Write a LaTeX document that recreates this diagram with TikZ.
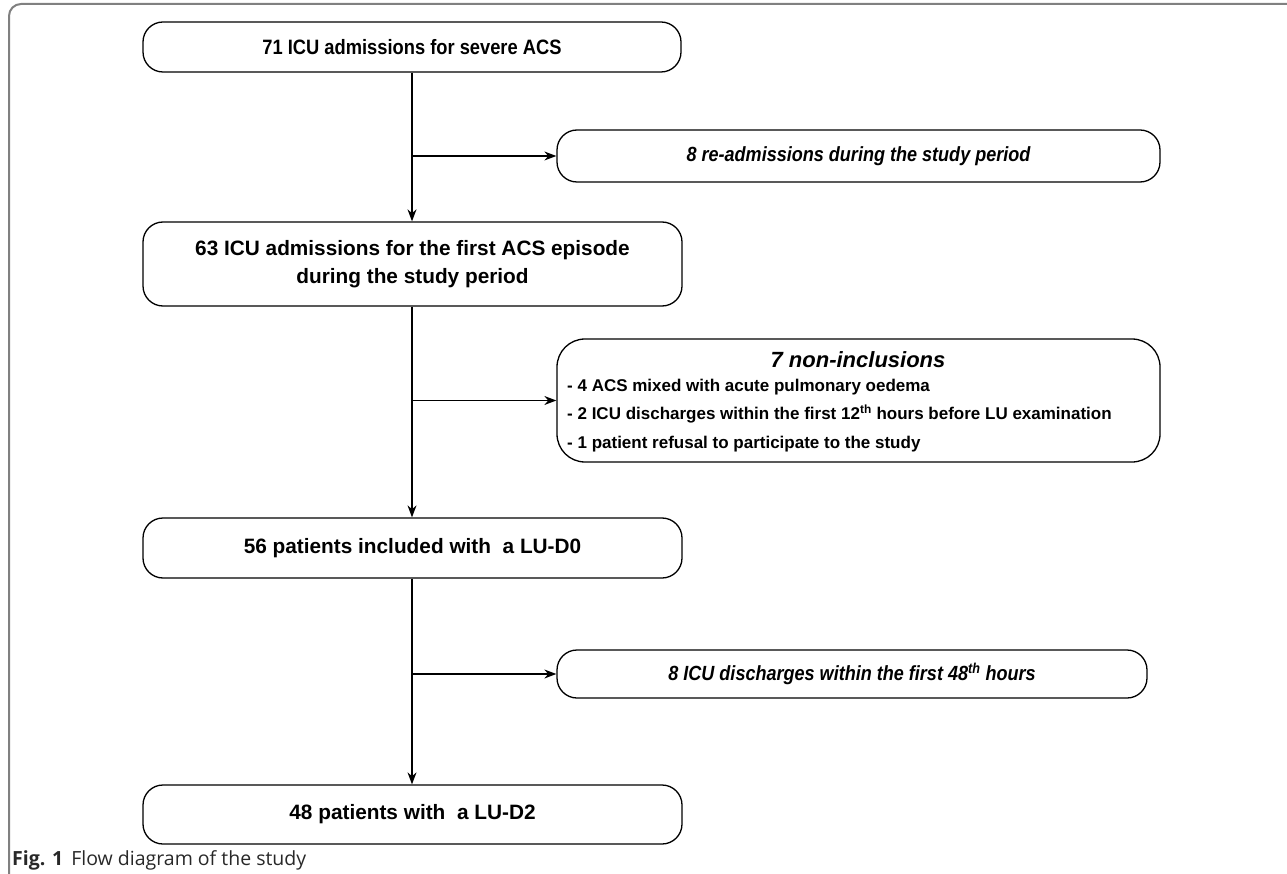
\documentclass[tikz,border=0pt]{standalone}
\usepackage{fontspec}
\setmainfont{Liberation Sans}
\newfontfamily\narrowfont[FakeStretch=0.88]{Liberation Sans}
\newfontfamily\capfont{Open Sans}
\usetikzlibrary{arrows.meta}
\definecolor{framegrey}{RGB}{128,128,128}
\definecolor{capgrey}{RGB}{40,40,40}
\tikzset{
  box/.style={draw, line width=1.3pt, rounded corners=20pt, inner sep=0pt, align=center, font=\fontsize{20.8}{28}\selectfont\bfseries},
  itbox/.style={box, font=\narrowfont\fontsize{20.5}{28}\selectfont\bfseries\itshape},
  item/.style={anchor=base west, inner sep=0pt, font=\fontsize{17}{20}\selectfont\bfseries},
  arr/.style={line width=1.3pt, -{Stealth[length=12pt,width=9pt]}},
}
\begin{document}
\begin{tikzpicture}[x=1pt,y=-1pt]
\useasboundingbox (0,0) rectangle (1287,874);
\begin{scope}
\clip (0,0) rectangle (1287,874);
\draw[framegrey, line width=2pt, rounded corners=12pt] (9,4) rectangle (1310,900);
\end{scope}
\node[box, minimum width=538pt, minimum height=50pt, font=\narrowfont\fontsize{20.8}{28}\selectfont\bfseries] (b1) at (412,47) {71 ICU admissions for severe ACS};
\node[itbox, minimum width=603pt, minimum height=52pt] (re) at (858.5,156) {8 re-admissions during the study period};
\node[box, minimum width=539pt, minimum height=84pt] (b2) at (412.5,264) {63 ICU admissions for the first ACS episode\\during the study period};
\node[box, minimum width=603pt, minimum height=123pt, rounded corners=28pt] (ni) at (858.5,400.5) {};
\node[font=\fontsize{22}{24}\selectfont\bfseries\itshape, anchor=base, inner sep=0pt] (nit) at (858,367) {7 non-inclusions};
\node[item] (i1) at (567,391) {- 4 ACS mixed with acute pulmonary oedema};
\node[item] (i2) at (567,419.5) {- 2 ICU discharges within the first 12\textsuperscript{th} hours before LU examination};
\node[item] (i3) at (567,448) {- 1 patient refusal to participate to the study};
\node[box, minimum width=539pt, minimum height=60pt] (b3) at (412.5,548) {56 patients included with\ \ a LU-D0};
\node[itbox, minimum width=590pt, minimum height=48pt] (dis) at (852,674) {8 ICU discharges within the first 48\textsuperscript{th} hours};
\node[box, minimum width=539pt, minimum height=59pt] (b4) at (412.5,814.5) {48 patients with\ \ a LU-D2};
\coordinate (j1) at (b1.south |- re.west);
\coordinate (j2) at (b1.south |- ni.west);
\coordinate (j3) at (b1.south |- dis.west);
\draw[arr] (b1.south) -- (b1.south |- b2.north);
\draw[arr] (j1) -- (re.west);
\draw[arr] (b1.south |- b2.south) -- (b1.south |- b3.north);
\draw[arr] (j2) -- (ni.west);
\draw[arr] (b1.south |- b3.south) -- (b1.south |- b4.north);
\draw[arr] (j3) -- (dis.west);
\node[anchor=base west, inner sep=0pt, text=capgrey, font=\capfont\fontsize{19.5}{22}\selectfont] (cap) at (12,865) {\textbf{Fig. 1}\hspace{8pt}Flow diagram of the study};
\end{tikzpicture}
\end{document}
